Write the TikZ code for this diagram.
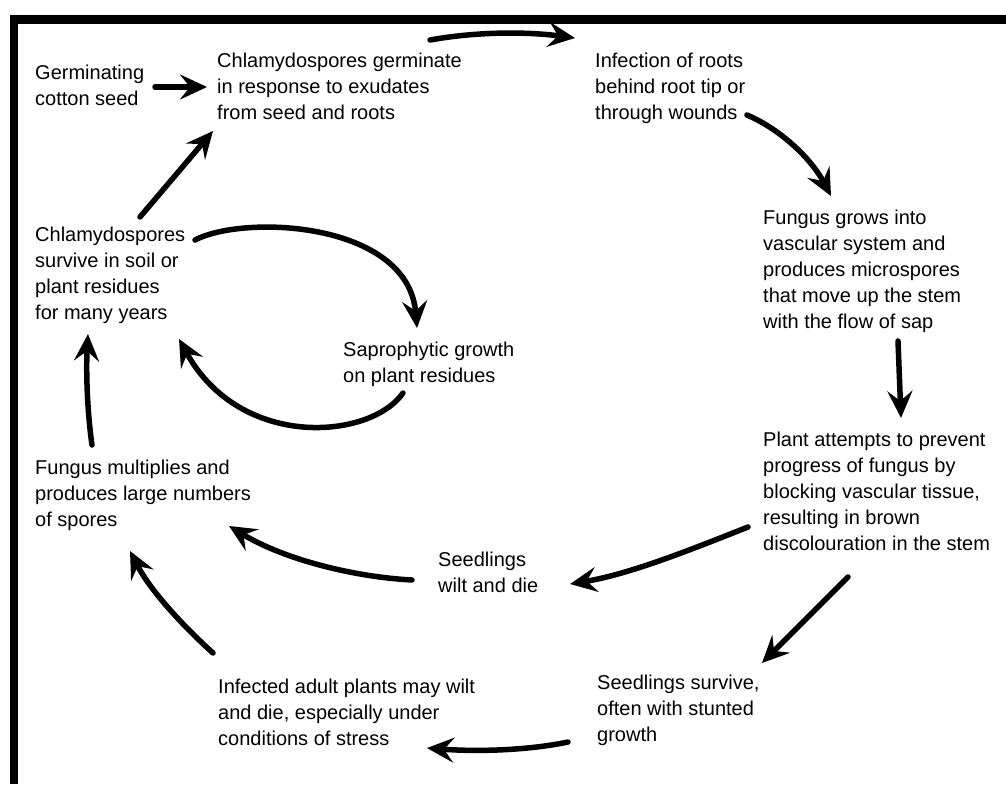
\documentclass[tikz,border=0pt]{standalone}
\usepackage{fontspec}
\setmainfont{Liberation Sans}
\usetikzlibrary{arrows.meta}
\tikzset{
  lbl/.style={anchor=base west, align=left, inner sep=0pt, font=\fontsize{20}{26}\selectfont},
  arr/.style={line width=5.5pt, line cap=round, -{Stealth[length=27pt,width=25pt,inset=10pt]}},
  frame/.style={fill=black, draw=none}
}
\begin{document}
\begin{tikzpicture}[x=1pt,y=-1pt]
\useasboundingbox (0,0) rectangle (1006,784);
% frame (top and left edges)
\fill[frame] (10,15) rectangle (1006,24);
\fill[frame] (10,15) rectangle (18,784);

% texts (anchor = baseline of the last line)
\node[lbl] (germ) at (35,105) {Germinating\\cotton seed};
\node[lbl] (chlG) at (217,119) {Chlamydospores germinate\\in response to exudates\\from seed and roots};
\node[lbl] (inf) at (595,119) {Infection of roots\\behind root tip or\\through wounds};
\node[lbl] (fgrow) at (763,328) {Fungus grows into\\vascular system and\\produces microspores\\that move up the stem\\with the flow of sap};
\node[lbl] (plant) at (763,550) {Plant attempts to prevent\\progress of fungus by\\blocking vascular tissue,\\resulting in brown\\discolouration in the stem};
\node[lbl] (swilt) at (438,592) {Seedlings\\wilt and die};
\node[lbl] (ssurv) at (597,741) {Seedlings survive,\\often with stunted\\growth};
\node[lbl] (infad) at (218,745) {Infected adult plants may wilt\\and die, especially under\\conditions of stress};
\node[lbl] (fmult) at (35,526) {Fungus multiplies and\\produces large numbers\\of spores};
\node[lbl] (surv) at (35,319) {Chlamydospores\\survive in soil or\\plant residues\\for many years};
\node[lbl] (sapro) at (343,382) {Saprophytic growth\\on plant residues};

% connector end points
\coordinate (g1) at (155,87);   \coordinate (g2) at (207,87);
\coordinate (c1) at (430,40);   \coordinate (c2) at (575,38);
\coordinate (i1) at (747,115);  \coordinate (i2) at (831,196);
\coordinate (f1) at (898,341);  \coordinate (f2) at (901,418);
\coordinate (p1) at (748,527);  \coordinate (p2) at (570,584);
\coordinate (q1) at (848,577);  \coordinate (q2) at (762,663);
\coordinate (s1) at (568,742);  \coordinate (s2) at (427,748);
\coordinate (w1) at (412,580);  \coordinate (w2) at (229,526);
\coordinate (a1) at (213,653);  \coordinate (a2) at (130,551);
\coordinate (m1) at (92,445);   \coordinate (m2) at (88,334);
\coordinate (v1) at (140,217);  \coordinate (v2) at (213,131);
\coordinate (r1) at (195,240);  \coordinate (r2) at (417,328);
\coordinate (o1) at (403,393);  \coordinate (o2) at (179,339);

% connectors
\draw[arr] (g1) -- (g2);
\draw[arr] (c1) .. controls (480,31) and (530,32) .. (c2);
\draw[arr] (i1) .. controls (782,130) and (812,160) .. (i2);
\draw[arr] (f1) -- (f2);
\draw[arr] (p1) .. controls (690,550) and (630,574) .. (p2);
\draw[arr] (q1) -- (q2);
\draw[arr] (s1) .. controls (530,750) and (480,752) .. (s2);
\draw[arr] (w1) .. controls (355,577) and (285,560) .. (w2);
\draw[arr] (a1) .. controls (182,625) and (150,590) .. (a2);
\draw[arr] (m1) .. controls (87,410) and (86,370) .. (m2);
\draw[arr] (v1) -- (v2);
\draw[arr] (r1) .. controls (245,214) and (408,222) .. (r2);
\draw[arr] (o1) .. controls (370,440) and (240,450) .. (o2);
\end{tikzpicture}
\end{document}
